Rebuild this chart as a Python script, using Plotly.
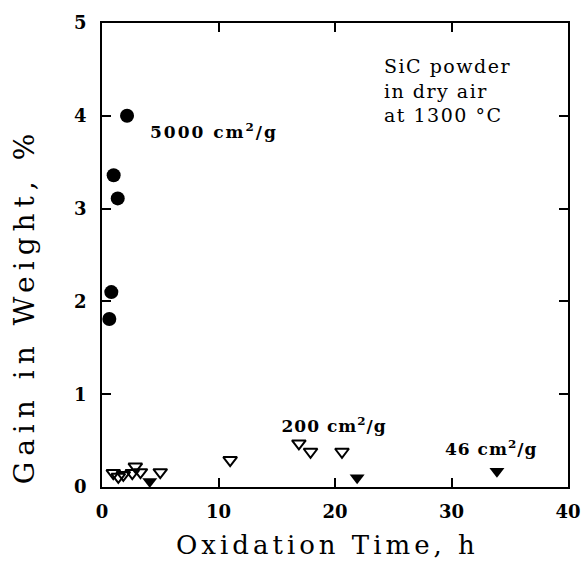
import plotly.graph_objects as go

# 5000 cm2/g (filled circles)
t_5000 = [2.15, 1.0, 1.35, 0.8, 0.63]
w_5000 = [4.0, 3.36, 3.11, 2.10, 1.81]

# 200 cm2/g (open down-triangles)
t_200 = [0.97, 1.4, 1.83, 2.6, 2.86, 3.3, 5.0, 11.0, 16.9, 17.9, 20.6]
w_200 = [0.15, 0.11, 0.13, 0.15, 0.22, 0.16, 0.16, 0.29, 0.47, 0.38, 0.38]

# 46 cm2/g (filled down-triangles)
t_46 = [4.1, 21.9, 33.9]
w_46 = [0.06, 0.10, 0.17]

x_ticks = [0, 10, 20, 30, 40]
y_ticks = [0, 1, 2, 3, 4, 5]

serif = "DejaVu Serif"

fig = go.Figure()
fig.add_trace(go.Scatter(x=t_5000, y=w_5000, mode="markers",
                         marker=dict(symbol="circle", size=14, color="black"),
                         showlegend=False))
fig.add_trace(go.Scatter(x=t_200, y=w_200, mode="markers",
                         marker=dict(symbol="triangle-down-open", size=12, color="black",
                                     line=dict(width=2, color="black")),
                         showlegend=False))
fig.add_trace(go.Scatter(x=t_46, y=w_46, mode="markers",
                         marker=dict(symbol="triangle-down", size=13, color="black"),
                         showlegend=False))

axis_common = dict(showline=True, linecolor="black", linewidth=1.5, mirror="ticks",
                   ticks="inside", ticklen=9, tickwidth=1.5, tickcolor="black",
                   showgrid=False, zeroline=False, automargin=False,
                   tickfont=dict(family=serif, size=18, color="black", weight="bold"))

fig.update_xaxes(range=[0, 40], tickvals=x_ticks, ticktext=[str(v) for v in x_ticks],
                 ticklabelstandoff=8, **axis_common)
fig.update_yaxes(range=[0, 5], tickvals=y_ticks, ticktext=[str(v) for v in y_ticks],
                 ticklabelstandoff=10, **axis_common)

# 0: condition text
fig.add_annotation(x=0.60, y=0.935, xref="paper", yref="paper", xanchor="left", yanchor="top",
                   text="SiC powder<br>in dry air<br>at 1300 °C", showarrow=False, align="left",
                   font=dict(family=serif, size=19, color="black"))
# 1-3: series labels
fig.add_annotation(x=4.8, y=3.84, text="5000 cm<sup>2</sup>/g", showarrow=False,
                   xanchor="left", font=dict(family=serif, size=17, color="black", weight="bold"))
fig.add_annotation(x=15.6, y=0.67, text="200 cm<sup>2</sup>/g", showarrow=False,
                   xanchor="left", font=dict(family=serif, size=17, color="black", weight="bold"))
fig.add_annotation(x=29.6, y=0.42, text="46 cm<sup>2</sup>/g", showarrow=False,
                   xanchor="left", font=dict(family=serif, size=17, color="black", weight="bold"))
# 4: y axis title
fig.add_annotation(x=-0.167, y=0.39, xref="paper", yref="paper", xanchor="center", yanchor="middle",
                   text="Gain in Weight, %", textangle=-90, showarrow=False,
                   font=dict(family=serif, size=28, color="black"))
# 5: x axis title
fig.add_annotation(x=0.484, y=-0.125, xref="paper", yref="paper", xanchor="center", yanchor="middle",
                   text="Oxidation Time, h", showarrow=False,
                   font=dict(family=serif, size=26, color="black"))

fig.update_layout(width=583, height=563, margin=dict(l=102, r=15, t=23, b=76, autoexpand=False),
                  plot_bgcolor="white", paper_bgcolor="white")

css = ("g.annotation[data-index='0'] text{letter-spacing:1.5px}"
       "g.annotation[data-index='1'] text{letter-spacing:2px}"
       "g.annotation[data-index='2'] text,"
       "g.annotation[data-index='3'] text{letter-spacing:1px}"
       "g.annotation[data-index='4'] text{letter-spacing:6px}"
       "g.annotation[data-index='5'] text{letter-spacing:4px}")
post = "var s=document.createElement('style');s.textContent=\"" + css + "\";document.head.appendChild(s);"

fig.write_html("out.html", post_script=post)
